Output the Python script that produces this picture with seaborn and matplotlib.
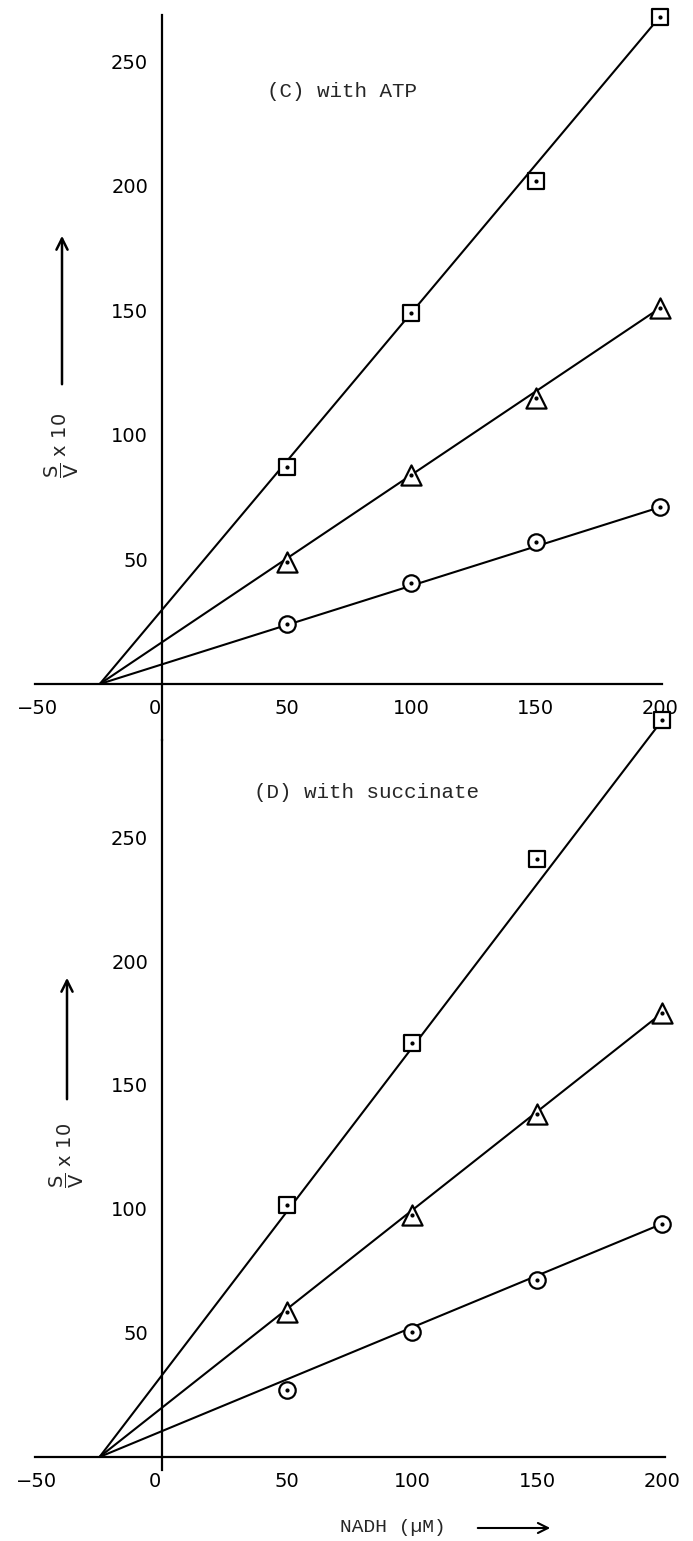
import numpy as np
import pandas as pd
import seaborn as sns
import matplotlib.pyplot as plt
import matplotlib.transforms as mtransforms

# Hanes-type plots (S/V x 10 against NADH), panel C with ATP, panel D with succinate

nadh = [50, 100, 150, 200]
series = ['square', 'triangle', 'circle']
markers = {'square': 's', 'triangle': '^', 'circle': 'o'}
marker_area = {'square': 130, 'triangle': 210, 'circle': 140}

atp_square = [87, 149, 202, 268]
atp_triangle = [49, 84, 115, 151]
atp_circle = [24, 40.5, 57, 71]

succ_square = [101.5, 167, 241, 297]
succ_triangle = [58.5, 97.5, 138.5, 179]
succ_circle = [27, 50.5, 71.5, 94]

# fitted lines, all meeting the x axis at about -25
fit_x = [-25, 200]
atp_fit = {'square': [0, 268], 'triangle': [0, 151], 'circle': [0, 71]}
succ_fit = {'square': [0, 297], 'triangle': [0, 179], 'circle': [0, 94]}

x_ticks = [-50, 0, 50, 100, 150, 200]
x_labels = ['\u221250', '0', '50', '100', '150', '200']
y_ticks = [50, 100, 150, 200, 250]

sns.set_style('white')
plt.rcParams['font.family'] = ['DejaVu Sans']

W, H = 693, 1541
fig = plt.figure(figsize=(W / 100, H / 100), dpi=100)


def px_axes(left, top, right, bottom):
    return fig.add_axes([left / W, 1 - bottom / H, (right - left) / W, (bottom - top) / H])


def make_df(sq, tr, ci):
    return pd.DataFrame({
        'nadh': nadh * 3,
        'sv': sq + tr + ci,
        'series': ['square'] * 4 + ['triangle'] * 4 + ['circle'] * 4,
    })


def make_fit(fits):
    rows = []
    for s in series:
        for x, y in zip(fit_x, fits[s]):
            rows.append({'nadh': x, 'sv': y, 'series': s})
    return pd.DataFrame(rows)


def draw_panel(ax, df, fit_df, xlim, ylim, spine_top):
    ax.set_xlim(*xlim)
    ax.set_ylim(*ylim)
    sns.lineplot(data=fit_df, x='nadh', y='sv', units='series', estimator=None,
                 color='black', lw=1.5, ax=ax, legend=False)
    for line in ax.lines:
        line.set_clip_on(False)
    for s in series:
        sub = df[df['series'] == s]
        sns.scatterplot(data=sub, x='nadh', y='sv', marker=markers[s], s=marker_area[s],
                        facecolor='white', edgecolor='black', linewidth=1.6,
                        ax=ax, legend=False, zorder=3, clip_on=False)
        ax.scatter(sub['nadh'], sub['sv'], s=4, color='black', zorder=4, clip_on=False)

    for side in ['top', 'right']:
        ax.spines[side].set_visible(False)
    ax.spines['left'].set_position(('data', 0))
    ax.spines['bottom'].set_position(('data', 0))
    ax.spines['left'].set_bounds(ylim[0], spine_top)
    ax.spines['bottom'].set_bounds(-51, 201)
    for side in ['left', 'bottom']:
        ax.spines[side].set_linewidth(1.6)
        ax.spines[side].set_color('black')

    ax.set_xticks(x_ticks)
    ax.set_yticks(y_ticks)
    ax.set_xticklabels(x_labels)
    ax.set_yticklabels([str(t) for t in y_ticks])
    ax.tick_params(axis='both', direction='in', length=5, width=1.4, color='black',
                   labelsize=14, labelcolor='black')
    ax.tick_params(axis='x', pad=11)
    ax.tick_params(axis='y', pad=10)
    # the "0" sits just left of the vertical axis
    zero = ax.get_xticklabels()[1]
    zero.set_transform(zero.get_transform() + mtransforms.ScaledTranslation(-7 / 100, 0, fig.dpi_scale_trans))
    ax.set_xlabel('')
    ax.set_ylabel('')
    ax.patch.set_alpha(0)


ax1 = px_axes(20, 15, 690, 740)
draw_panel(ax1, make_df(atp_square, atp_triangle, atp_circle), make_fit(atp_fit),
           ((20 - 162) / 2.49, (690 - 162) / 2.49),
           (-(740 - 684) / 2.49, (684 - 15) / 2.49), (684 - 15) / 2.49)

ax2 = px_axes(20, 740, 690, 1470)
draw_panel(ax2, make_df(succ_square, succ_triangle, succ_circle), make_fit(succ_fit),
           ((20 - 162) / 2.5, (690 - 162) / 2.5),
           (-(1470 - 1457) / 2.48, (1457 - 740) / 2.48), (1457 - 740) / 2.48)

mono = 'Liberation Mono'
ax1.text(42, 238, '(C) with ATP', family=mono, fontsize=15, va='center', ha='left')
ax2.text(37, 268, '(D) with succinate', family=mono, fontsize=15, va='center', ha='left')

ylab = r'$\dfrac{\mathsf{S}}{\mathsf{V}}$ x 10'
for cx, cy, a0, a1 in [(62, 445, 387, 233), (67, 1155, 1102, 975)]:
    fig.text(cx / W, 1 - cy / H, ylab, rotation=90, ha='center', va='center', fontsize=14)
    plt.annotate('', xy=(cx / W, 1 - a1 / H), xytext=(cx / W, 1 - a0 / H),
                 xycoords='figure fraction',
                 arrowprops=dict(arrowstyle='->', lw=1.8, color='black', mutation_scale=20))

fig.text(340 / W, 1 - 1528 / H, 'NADH (µM)', family=mono, fontsize=14, ha='left', va='center')
plt.annotate('', xy=(553 / W, 1 - 1528 / H), xytext=(475 / W, 1 - 1528 / H),
             xycoords='figure fraction',
             arrowprops=dict(arrowstyle='->', lw=1.5, color='black', mutation_scale=18))

fig.savefig('out.png', dpi=100)
